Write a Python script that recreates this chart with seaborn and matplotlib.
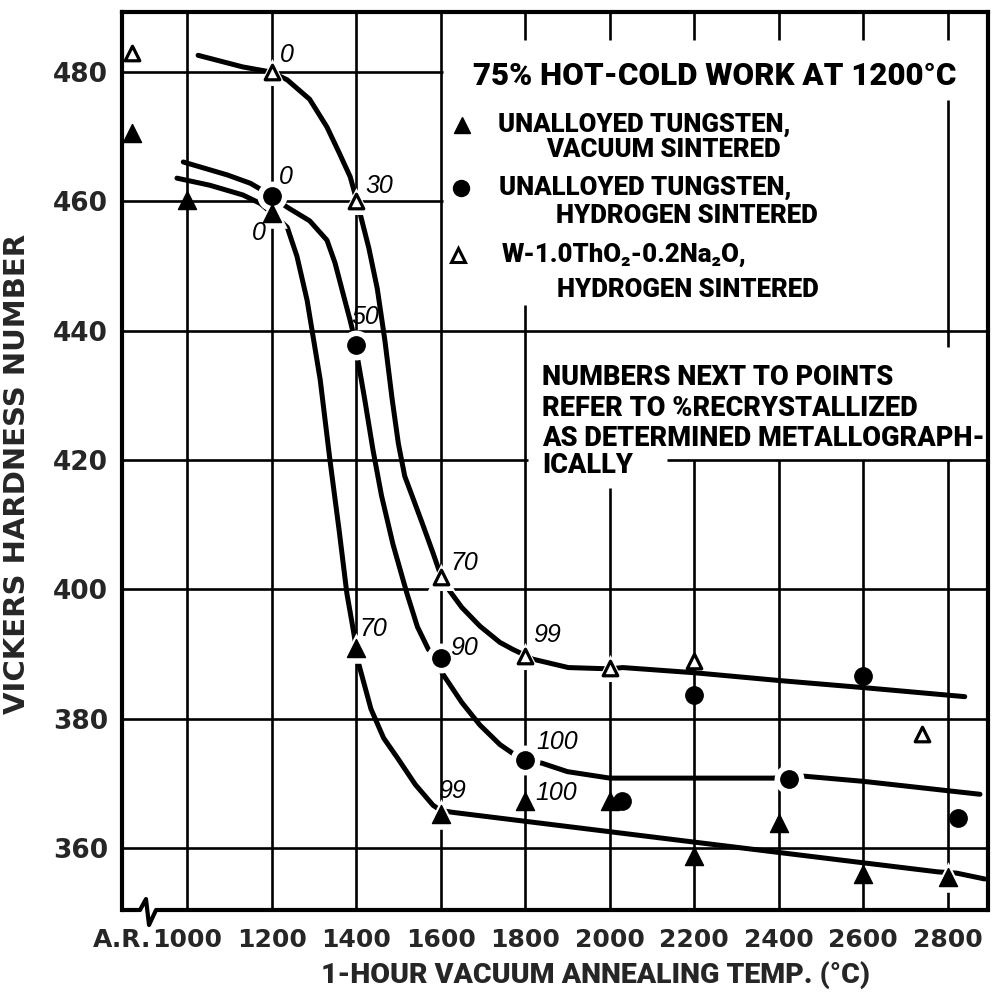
import matplotlib
matplotlib.use("Agg")
import matplotlib.pyplot as plt
import seaborn as sns

# ---------------------------------------------------------------- data
AR = 870  # axis position of the as-received (unannealed) condition

# unalloyed tungsten, vacuum sintered (filled triangles)
vac_temp = [AR, 1000, 1200, 1400, 1600, 1800, 2000, 2200, 2400, 2600, 2800]
vac_hv = [470.6, 460.2, 458.2, 391.0, 365.2, 367.2, 367.2, 358.8, 363.9, 356.0, 355.5]
vac_pct = ["", "", "0", "70", "99", "100", "", "", "", "", ""]

# unalloyed tungsten, hydrogen sintered (filled circles)
hyd_temp = [1200, 1400, 1600, 1800, 2030, 2200, 2425, 2600, 2825]
hyd_hv = [460.8, 437.8, 389.4, 373.6, 367.2, 383.6, 370.6, 386.6, 364.7]
hyd_pct = ["0", "50", "90", "100", "", "", "", "", ""]

# W-1.0ThO2-0.2Na2O, hydrogen sintered (open triangles)
tho_temp = [AR, 1200, 1400, 1600, 1800, 2000, 2200, 2740]
tho_hv = [482.9, 480.0, 460.0, 401.9, 389.7, 387.8, 388.9, 377.7]
tho_pct = ["", "0", "30", "70", "99", "", "", ""]

# hand-faired trend curves through each set of points
vac_fit_temp = [976, 1054, 1132, 1173, 1200, 1237, 1260, 1284, 1315, 1338, 1360,
                1378, 1393, 1400, 1403, 1435, 1465, 1498, 1540, 1582, 1600, 1629,
                2200, 2600, 2776, 2821, 2887]
vac_fit_hv = [463.6, 462.5, 461.0, 459.7, 458.2, 456.0, 451.5, 444.7, 432.4, 420.0, 409.0,
              399.4, 393.8, 391.0, 389.2, 381.5, 377.0, 373.9, 369.8, 366.6, 365.8, 365.5,
              360.9, 357.7, 356.3, 356.1, 355.2]

hyd_fit_temp = [991, 1095, 1150, 1189, 1200, 1237, 1290, 1331, 1350, 1368, 1385, 1400,
                1404, 1420, 1440, 1460, 1487, 1520, 1545, 1571, 1600, 1603, 1650, 1693,
                1740, 1771, 1800, 1840, 1900, 2000, 2200, 2385, 2425, 2460, 2600, 2876]
hyd_fit_hv = [466.1, 464.1, 462.8, 461.3, 460.8, 459.1, 457.0, 454.0, 450.5, 446.0, 441.8, 437.8,
              435.5, 429.5, 421.5, 414.5, 407.0, 399.4, 394.2, 390.7, 389.4, 387.1, 382.5, 379.0,
              376.0, 374.6, 373.6, 373.1, 371.8, 370.8, 370.8, 370.8, 370.9, 371.1, 370.3, 368.3]

tho_fit_temp = [1026, 1132, 1200, 1237, 1290, 1331, 1360, 1386, 1400, 1409, 1430, 1450,
                1468, 1485, 1500, 1515, 1535, 1556, 1582, 1600, 1614, 1650, 1693, 1740,
                1771, 1800, 1818, 1902, 2000, 2031, 2200, 2400, 2600, 2840]
tho_fit_hv = [482.6, 480.8, 480.0, 478.8, 475.8, 471.5, 467.5, 463.8, 460.5, 458.2, 452.8, 446.5,
              438.5, 429.5, 422.5, 417.5, 414.0, 410.3, 405.6, 402.2, 400.4, 397.2, 394.3, 391.8,
              390.7, 389.8, 389.2, 387.9, 387.7, 387.9, 387.1, 385.9, 384.8, 383.4]

grid_temp = [1000, 1200, 1400, 1600, 1800, 2000, 2200, 2400, 2600, 2800]
grid_hv = [360, 380, 400, 420, 440, 460, 480]

# ---------------------------------------------------------------- style
sns.set_style("white")
LETTER = ["Roboto", "DejaVu Sans"]
DIGIT = ["DejaVu Sans"]
NUMFONT = ["Liberation Sans", "DejaVu Sans"]
plt.rcParams["font.family"] = LETTER
INK = "black"
HEAVY = "black"  # font weight of the lettering

fig = plt.figure(figsize=(9.95, 9.94), dpi=100)
ax = fig.add_axes([122 / 995, 1 - 910 / 994, 866 / 995, 898 / 994])
ax.set_xlim(846, 2895)
ax.set_ylim(350.4, 489.3)

# ---------------------------------------------------------------- grid
# the drafted grid stops short of the lettered blocks
GW = 1.9
vseg = {
    1000: [(350.4, 489.3)], 1200: [(350.4, 489.3)], 1400: [(350.4, 489.3)],
    1600: [(350.4, 489.3)],
    1800: [(350.4, 444.0), (485.0, 489.3)],
    2000: [(350.4, 415.7), (485.0, 489.3)],
    2200: [(350.4, 420.0), (485.0, 489.3)],
    2400: [(350.4, 420.0), (485.0, 489.3)],
    2600: [(350.4, 420.0), (485.0, 489.3)],
    2800: [(350.4, 420.0), (437.5, 475.7), (485.0, 489.3)],
}
hseg = {
    360: [(846, 2895)], 380: [(846, 2895)], 400: [(846, 2895)],
    420: [(846, 1807), (2135, 2895)], 440: [(846, 2895)],
    460: [(846, 1605)], 480: [(846, 1605)],
}
for t in grid_temp:
    for lo, hi in vseg[t]:
        ax.vlines(t, lo, hi, color=INK, lw=GW, zorder=1)
for h in grid_hv:
    for lo, hi in hseg[h]:
        ax.hlines(h, lo, hi, color=INK, lw=GW, zorder=1)

# ---------------------------------------------------------------- curves
LW = 3.6
for xs, ys in [(vac_fit_temp, vac_fit_hv), (hyd_fit_temp, hyd_fit_hv), (tho_fit_temp, tho_fit_hv)]:
    sns.lineplot(x=xs, y=ys, sort=False, estimator=None, color=INK, lw=LW,
                 solid_capstyle="round", solid_joinstyle="round", zorder=2.5, ax=ax)

# ---------------------------------------------------------------- points
MS_TRI, MS_CIR, MS_OPEN = 13, 12.5, 10.5
halo = {"vac": [1200, 1400, 1600, 2800], "hyd": [1200, 1400, 1600, 1800, 2425],
        "tho": [1200, 1400, 1600, 1800, 2000]}
series = [
    ("vac", vac_temp, vac_hv, vac_pct, "^", MS_TRI, INK, INK, 1.0),
    ("hyd", hyd_temp, hyd_hv, hyd_pct, "o", MS_CIR, INK, INK, 1.0),
    ("tho", tho_temp, tho_hv, tho_pct, "^", MS_OPEN, "white", INK, 2.3),
]
for key, xs, ys, _, mk, ms, fc, ec, ew in series:
    hx = [x for x in xs if x in halo[key]]
    hy = [y for x, y in zip(xs, ys) if x in halo[key]]
    sns.scatterplot(x=hx, y=hy, marker=mk, s=(ms + 9) ** 2, color="white",
                    edgecolor="white", linewidth=0, zorder=3, ax=ax)
for key, xs, ys, _, mk, ms, fc, ec, ew in series:
    sns.scatterplot(x=xs, y=ys, marker=mk, s=ms ** 2, color=fc, edgecolor=ec,
                    linewidth=ew, zorder=4, ax=ax)

# percent recrystallized next to the points
offsets = {
    ("vac", 1200): (-9, -14), ("vac", 1400): (12, 13), ("vac", 1600): (8, 17),
    ("vac", 1800): (22, 6),
    ("hyd", 1200): (10, 14), ("hyd", 1400): (6.5, 20), ("hyd", 1600): (17, 7),
    ("hyd", 1800): (23, 13),
    ("tho", 1200): (11, 12), ("tho", 1400): (17, 11), ("tho", 1600): (17, 10),
    ("tho", 1800): (16, 15),
}
for key, xs, ys, labels, *_ in series:
    for x, y, lab in zip(xs, ys, labels):
        if lab:
            ax.annotate(lab, (x, y), xytext=offsets[(key, x)], textcoords="offset points",
                        ha="center", va="center", fontsize=18, style="italic",
                        family=NUMFONT, color=INK, zorder=5)

# ---------------------------------------------------------------- axes frame
for side in ("left", "top", "right"):
    ax.spines[side].set_linewidth(3.0)
    ax.spines[side].set_color(INK)
ax.spines["bottom"].set_visible(False)
ax.plot([0, 0.0208, 0.0277, 0.0312, 0.0393, 1], [0, 0, 0.0122, -0.0167, 0, 0],
        transform=ax.transAxes, color=INK, lw=3.0, clip_on=False, zorder=6,
        solid_joinstyle="round")

ax.set_xticks([846] + grid_temp)
ax.set_xticklabels(["A.R."] + [str(t) for t in grid_temp])
ax.set_yticks(grid_hv)
ax.set_yticklabels([str(h) for h in grid_hv])
ax.tick_params(axis="both", length=0)
ax.tick_params(axis="x", pad=13)
ax.tick_params(axis="y", pad=10)
for lab in ax.get_xticklabels():
    lab.set_fontfamily(DIGIT)
    lab.set_fontweight("bold")
    lab.set_fontsize(18)
for lab in ax.get_yticklabels():
    lab.set_fontfamily(DIGIT)
    lab.set_fontweight("bold")
    lab.set_fontsize(19)
ax.set_xlabel("")
ax.set_ylabel("")

fig.text(596 / 995, 1 - 975 / 994, "1-HOUR VACUUM ANNEALING TEMP. (°C)", ha="center",
         va="center", fontsize=20.5, fontweight=HEAVY, family=LETTER)
fig.text(17 / 995, 1 - 474 / 994, "VICKERS HARDNESS NUMBER", ha="center", va="center",
         rotation=90, fontsize=21, fontweight="bold", family=DIGIT)

# ---------------------------------------------------------------- key and notes
T = dict(transform=ax.transAxes, fontweight=HEAVY, family=LETTER, color=INK,
         va="center", ha="left", zorder=6)
ax.text(0.4053, 0.9287, "75% HOT-COLD WORK AT 1200°C", fontsize=22.5, **T)

ax.plot([0.3926], [0.8742], marker="^", ms=MS_TRI - 1, color=INK, transform=ax.transAxes)
ax.plot([0.3915], [0.8040], marker="o", ms=MS_CIR - 1, color=INK, transform=ax.transAxes)
ax.plot([0.3880], [0.7294], marker="^", ms=MS_OPEN - 1, mfc="white", mec=INK, mew=2.2,
        transform=ax.transAxes)
ax.text(0.4342, 0.8742, "UNALLOYED TUNGSTEN,", fontsize=18.5, **T)
ax.text(0.4896, 0.8463, "VACUUM SINTERED", fontsize=18.5, **T)
ax.text(0.4353, 0.8040, "UNALLOYED TUNGSTEN,", fontsize=18.5, **T)
ax.text(0.5012, 0.7728, "HYDROGEN SINTERED", fontsize=18.5, **T)
ax.text(0.4388, 0.7294, "W-1.0ThO₂-0.2Na₂O,", fontsize=18.5, **T)
ax.text(0.5023, 0.6904, "HYDROGEN SINTERED", fontsize=18.5, **T)

for y, line in zip([0.5935, 0.5590, 0.5256, 0.4955],
                   ["NUMBERS NEXT TO POINTS", "REFER TO %RECRYSTALLIZED",
                    "AS DETERMINED METALLOGRAPH-", "ICALLY"]):
    ax.text(0.4850, y, line, fontsize=19.5, **T)

fig.savefig("out.png", dpi=100)
